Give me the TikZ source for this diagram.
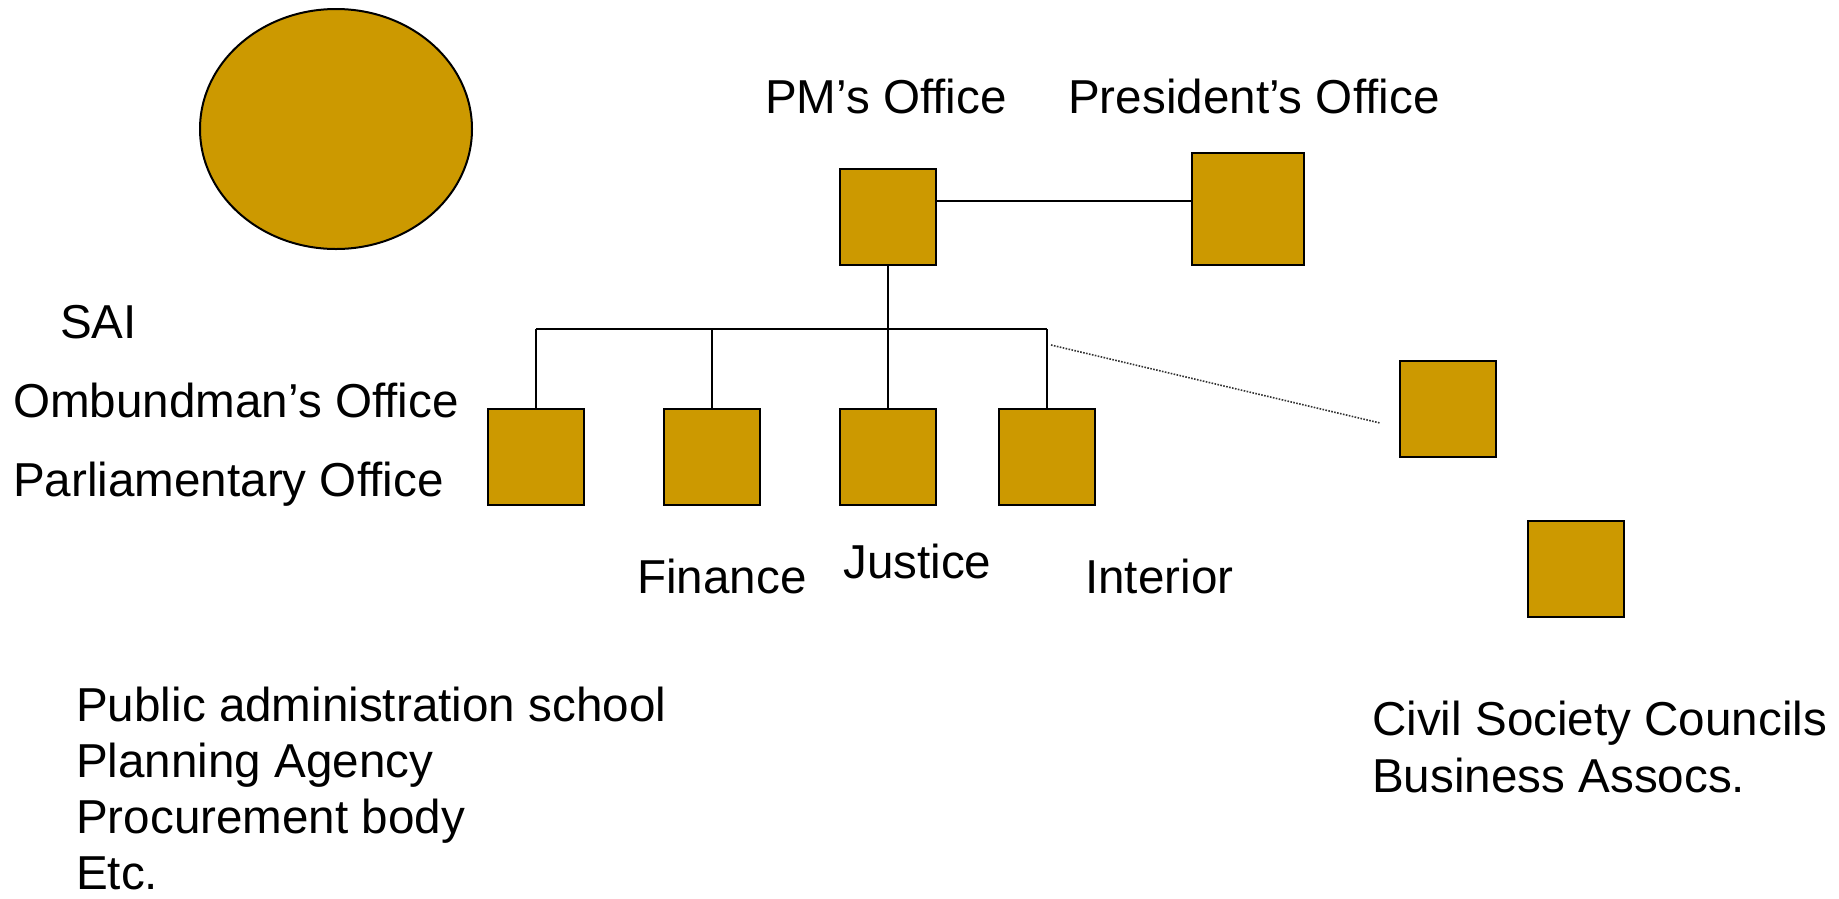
\documentclass[tikz,border=0pt]{standalone}
\usepackage{fontspec}
\setmainfont{Liberation Sans}
\usetikzlibrary{shapes.geometric}
\definecolor{gold}{RGB}{204,153,0}
\begin{document}
\begin{tikzpicture}[x=1pt,y=-1pt,
  box/.style={draw=black,fill=gold,line width=2.4pt,minimum size=96pt,inner sep=0pt,rectangle},
  conn/.style={draw=black,line width=1.8pt},
  dotconn/.style={draw=black!80,line width=1.6pt,dash pattern=on 1.6pt off 1.4pt},
  lbl/.style={anchor=base west,inner sep=0pt,font=\fontsize{47.6}{56}\selectfont}]
\useasboundingbox (0,0) rectangle (1839,898);
% ellipse
\node[ellipse,draw=black,fill=gold,line width=2pt,minimum width=272pt,minimum height=240pt,inner sep=0pt] (sai) at (336,129) {};
% boxes
\node[box] (pm) at (888,217) {};
\node[box,minimum size=112pt] (pres) at (1248,209) {};
\node[box] (fin) at (536,457) {};
\node[box] (b2) at (712,457) {};
\node[box] (jus) at (888,457) {};
\node[box] (int) at (1047,457) {};
\node[box] (cs) at (1448,409) {};
\node[box] (ba) at (1576,569) {};
% connectors
\coordinate (busL) at (536,329);
\coordinate (busR) at (1047,329);
\coordinate (dA) at (1051,345);
\coordinate (dB) at (1380,423);
\draw[conn] (pm.east |- 0,201) -- (pres.west |- 0,201);
\draw[conn] (pm.south) -- (pm.south |- busL);
\draw[conn] (busL) -- (busR);
\draw[conn] (fin.north) -- (fin.north |- busL);
\draw[conn] (b2.north) -- (b2.north |- busL);
\draw[conn] (jus.north) -- (jus.north |- busL);
\draw[conn] (int.north) -- (int.north |- busL);
\draw[dotconn] (dA) -- (dB);
% labels
\node[lbl] (tpm) at (765,113) {PM’s Office};
\node[lbl] (tpres) at (1068,113) {President’s Office};
\node[lbl] (tsai) at (60,338) {SAI};
\node[lbl] (tomb) at (13,417) {Ombundman’s Office};
\node[lbl] (tparl) at (13,496) {Parliamentary Office};
\node[lbl] (tfin) at (637,593) {Finance};
\node[lbl] (tjus) at (843,578) {Justice};
\node[lbl] (tint) at (1085,593) {Interior};
\node[lbl] (tpub) at (76,721) {Public administration school};
\node[lbl] (tplan) at (76,777) {Planning Agency};
\node[lbl] (tproc) at (76,833) {Procurement body};
\node[lbl] (tetc) at (76,889) {Etc.};
\node[lbl] (tciv) at (1372,735) {Civil Society Councils};
\node[lbl] (tbus) at (1372,792) {Business Assocs.};
\end{tikzpicture}
\end{document}
